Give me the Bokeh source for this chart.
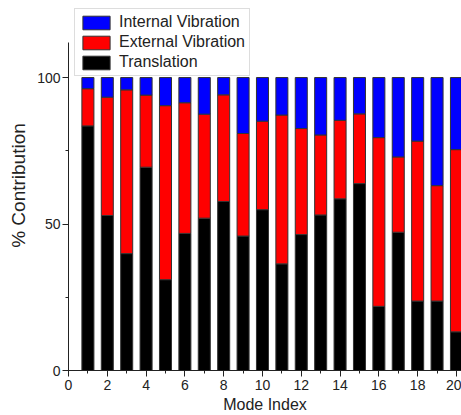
from bokeh.plotting import figure
from bokeh.models import Range1d, SingleIntervalTicker, Legend, LegendItem, ColumnDataSource
from bokeh.embed import file_html
from bokeh.resources import INLINE

mode_index = list(range(1, 21))
translation = [83.5, 52.9, 39.9, 69.4, 31.0, 46.8, 52.0, 57.7, 45.9, 54.9,
               36.4, 46.4, 53.1, 58.6, 63.8, 21.9, 47.2, 23.7, 23.7, 13.2]
external = [12.7, 40.4, 55.9, 24.6, 59.4, 44.6, 35.5, 36.4, 35.0, 30.2,
            50.8, 36.2, 27.3, 26.8, 23.8, 57.6, 25.7, 54.6, 39.4, 62.2]
internal = [3.8, 6.7, 4.2, 6.0, 9.6, 8.6, 12.5, 5.9, 19.1, 14.9,
            12.8, 17.4, 19.6, 14.6, 12.4, 20.5, 27.1, 21.7, 36.9, 24.6]

names = ["Translation", "External Vibration", "Internal Vibration"]
colors = ["#000000", "#ff0000", "#0000ff"]

src = ColumnDataSource(dict(x=mode_index, Translation=translation,
                            **{"External Vibration": external, "Internal Vibration": internal}))

FONT = "Liberation Sans"

p = figure(width=461, height=415, output_backend="svg", toolbar_location=None,
           x_range=Range1d(0, 20.26), y_range=Range1d(0, 126.3),
           min_border_left=68, min_border_right=0, min_border_top=0, min_border_bottom=0)
p.outline_line_color = None
p.xgrid.visible = False
p.ygrid.visible = False
p.background_fill_color = "white"
p.border_fill_color = "white"

rs = p.vbar_stack(names, x="x", width=0.62, source=src, color=colors,
                  line_color="#333333", line_width=1)

for ax in (p.xaxis[0], p.yaxis[0]):
    ax.major_tick_out = 6
    ax.major_tick_in = 0
    ax.minor_tick_out = 3
    ax.minor_tick_in = 0
    ax.axis_line_color = "#222222"
    ax.major_tick_line_color = "#222222"
    ax.minor_tick_line_color = "#222222"
    ax.major_label_text_font = FONT
    ax.major_label_text_font_size = "14px"
    ax.major_label_text_color = "#222222"
    ax.axis_label_text_font = FONT
    ax.axis_label_text_font_size = "16px"
    ax.axis_label_text_font_style = "normal"
    ax.axis_label_text_color = "#222222"

p.yaxis.bounds = (0, 112)
p.yaxis.axis_label_text_font_size = "19px"
p.xaxis.ticker = SingleIntervalTicker(interval=2, num_minor_ticks=2)
p.yaxis.ticker = SingleIntervalTicker(interval=50, num_minor_ticks=2)
p.xaxis.axis_label = "Mode Index"
p.yaxis.axis_label = "% Contribution"
p.xaxis.major_label_standoff = 3
p.xaxis.axis_label_standoff = 3
p.yaxis.major_label_standoff = 2
p.yaxis.axis_label_standoff = 5

legend = Legend(items=[LegendItem(label=names[2], renderers=[rs[2]]),
                       LegendItem(label=names[1], renderers=[rs[1]]),
                       LegendItem(label=names[0], renderers=[rs[0]])],
                location=(6, 294))
legend.glyph_width = 34
legend.glyph_height = 17
legend.label_height = 17
legend.spacing = 2
legend.padding = 4
legend.margin = 0
legend.label_standoff = 6
legend.label_text_font = FONT
legend.label_text_font_size = "16px"
legend.label_text_color = "#222222"
legend.border_line_color = "#bbbbbb"
legend.border_line_width = 1
legend.background_fill_color = "white"
legend.background_fill_alpha = 1
p.add_layout(legend, "center")

open("out.html", "w").write(file_html(p, INLINE))
